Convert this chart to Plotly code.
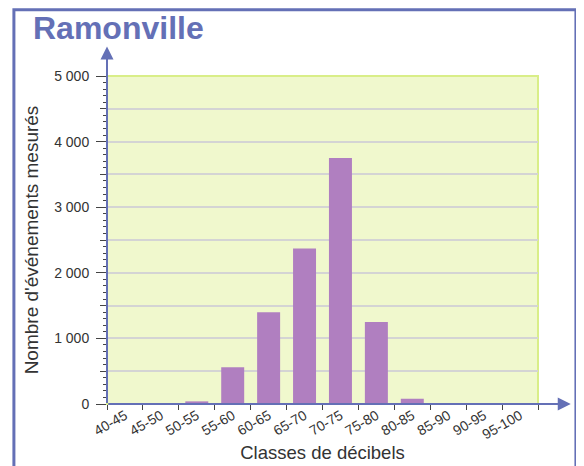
import plotly.graph_objects as go

# data
classes = ["40-45", "45-50", "50-55", "55-60", "60-65", "65-70",
           "70-75", "75-80", "80-85", "85-90", "90-95", "95-100"]
counts = [0, 0, 40, 560, 1400, 2370, 3750, 1250, 80, 0, 0, 0]

y_ticks = [0, 1000, 2000, 3000, 4000, 5000]
y_ticktext = ["0", "1 000", "2 000", "3 000", "4 000", "5 000"]
y_half = [500, 1500, 2500, 3500, 4500]

blue = "#6470b6"
txt = "#333333"
grid = "#d4d4d4"

fig = go.Figure()
fig.add_trace(go.Bar(x=classes, y=counts, marker_color="#b07fc0",
                     marker_line_width=0, showlegend=False))
# invisible trace to activate the second y axis
fig.add_trace(go.Scatter(x=classes, y=counts, yaxis="y2", mode="none",
                         showlegend=False, hoverinfo="skip"))

# page body has an 8px margin, so shift the plot up/left by that much
fig.update_layout(
    width=584, height=466,
    margin=dict(l=99, r=54, t=68, b=70),
    paper_bgcolor="white",
    plot_bgcolor="#f0f8cd",
    bargap=0.36,
    font=dict(family="Liberation Sans, Arial, sans-serif", color=txt),
    xaxis=dict(
        type="category", tickson="boundaries", ticks="outside",
        ticklen=5, tickcolor="#444", tickwidth=1, automargin=False,
        tickangle=-30, tickfont=dict(size=14),
        showgrid=False, showline=False, zeroline=False,
        title=dict(text="Classes de décibels", font=dict(size=18.5), standoff=4),
    ),
    yaxis=dict(
        range=[0, 5000], tickvals=y_ticks, ticktext=y_ticktext,
        ticks="outside", ticklen=10, tickcolor="#444", tickwidth=1,
        tickfont=dict(size=14), ticklabelstandoff=4, automargin=False,
        showgrid=True, gridcolor=grid, gridwidth=1.5,
        zeroline=False, showline=False,
        minor=dict(dtick=100, ticks="outside", ticklen=3, tickcolor="#444",
                   tickwidth=1, showgrid=False),
        title=dict(text="Nombre d'événements mesurés", font=dict(size=19),
                   standoff=10),
    ),
    yaxis2=dict(
        overlaying="y", side="left", anchor="x", range=[0, 5000],
        tickvals=y_half, showticklabels=False, automargin=False,
        ticks="outside", ticklen=6, tickcolor="#444", tickwidth=1,
        showgrid=True, gridcolor=grid, gridwidth=1.5, zeroline=False,
    ),
)

# plot border (yellow-green), outer blue frame
fig.add_shape(type="rect", xref="paper", yref="paper", x0=0, x1=1, y0=0, y1=1,
              line=dict(color="#d9ee88", width=2), layer="below")
fig.add_shape(type="rect", xref="paper", yref="paper",
              x0=-0.216, x1=1.088, y0=-0.3, y1=1.202,
              line=dict(color=blue, width=3))

# axes with arrows
fig.add_annotation(xref="paper", yref="paper", x=0, y=1.09, ax=0, ay=358,
                   axref="pixel", ayref="pixel", text="", showarrow=True,
                   arrowhead=2, arrowsize=1.3, arrowwidth=2, arrowcolor=blue)
fig.add_annotation(xref="paper", yref="paper", x=1.076, y=0, ax=-464, ay=0,
                   axref="pixel", ayref="pixel", text="", showarrow=True,
                   arrowhead=2, arrowsize=1.3, arrowwidth=2, arrowcolor=blue)

# title
fig.add_annotation(xref="paper", yref="paper", x=-0.176, y=1.146,
                   xanchor="left", yanchor="middle", showarrow=False,
                   text="<b>Ramonville</b>",
                   font=dict(size=32, color=blue,
                             family="Liberation Sans, Arial, sans-serif"))

fig.write_html("out.html")
